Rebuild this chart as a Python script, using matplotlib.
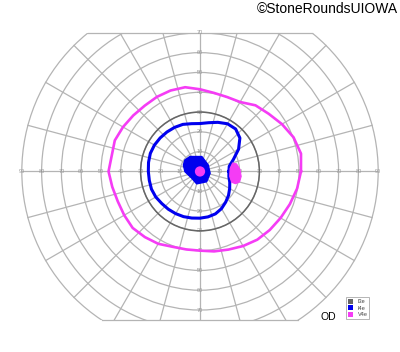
import numpy as np
import matplotlib
matplotlib.use('Agg')
from matplotlib import pyplot as plt
from matplotlib.patches import Circle, Rectangle, Polygon, Patch

plt.rcParams['font.family'] = ['Liberation Sans', 'DejaVu Sans']

# isopters, meridian angle (deg, counter-clockwise from right) and eccentricity (deg)
v4e_angles = [0, 10, 20, 30, 40, 50, 60, 70, 80, 90, 100, 110, 120, 130, 140, 150, 160, 170,
              180, 190, 200, 210, 220, 230, 240, 250, 260, 270, 280, 290, 300, 310, 320, 330, 340, 350]
v4e_ecc = [51.0, 51.8, 50.3, 47.8, 45.3, 43.6, 40.5, 40.0, 40.3, 41.5, 43.2, 43.5, 43.5, 43.4, 44.0, 44.9, 45.8, 45.3,
           46.2, 45.0, 44.2, 44.2, 44.4, 43.3, 42.2, 40.5, 40.0, 40.0, 41.0, 42.0, 43.5, 45.0, 46.0, 47.0, 48.3, 49.8]

i4e_angles = v4e_angles
i4e_ecc = [14.6, 15.0, 18.0, 22.5, 26.3, 28.0, 27.8, 26.4, 25.0, 24.2, 24.5, 25.3, 25.7, 26.0, 26.3, 26.6, 26.7, 26.4,
           26.1, 26.0, 26.1, 25.8, 25.2, 24.9, 24.6, 24.3, 23.9, 23.6, 23.3, 22.8, 21.7, 20.2, 18.8, 17.3, 16.0, 14.8]

i3e_radius = 30

# central filled area (I4e) and central V4e spot
blob_angles = [38, 83, 124, 143, 159, 181, 219, 255, 303, 350]
blob_ecc = [5.3, 7.6, 9.1, 9.6, 9.0, 7.6, 5.4, 6.5, 6.2, 5.2]
center_spot = 2.6

# blind spot (V4e), x/y in degrees
blind_x = [16.5, 18.5, 20.2, 20.8, 20.0, 18.0, 16.0, 15.0, 15.2]
blind_y = [4.3, 3.8, 1.0, -2.5, -5.3, -6.2, -5.5, -2.5, 1.5]

rings = [10, 20, 30, 40, 50, 60, 70, 80, 90]
spokes = np.arange(0, 360, 15)
top_clip = 70
bottom_clip = -75

c_grid = '#b4b4b4'
c_i3e = '#666666'
c_i4e = '#0000ee'
c_v4e = '#f53cf5'


def to_xy(ang, ecc):
    a = np.radians(ang)
    e = np.array(ecc)
    return e * np.cos(a), e * np.sin(a)


fig = plt.figure(figsize=(4, 3.52), dpi=100)
ax = fig.add_axes([0, 0, 1, 1])
ax.set_xlim(-101, 101)
ax.set_ylim(-91.2, 86.6)
ax.set_aspect('equal')
ax.axis('off')

clip = Rectangle((-100, bottom_clip), 200, top_clip - bottom_clip, transform=ax.transData)

# grid
for r in rings:
    c = Circle((0, 0), r, fill=False, edgecolor=c_grid, lw=0.9, zorder=1)
    ax.add_patch(c)
    c.set_clip_path(clip)
for s in spokes:
    ln, = ax.plot([2 * np.cos(np.radians(s)), 90 * np.cos(np.radians(s))],
                  [2 * np.sin(np.radians(s)), 90 * np.sin(np.radians(s))],
                  color=c_grid, lw=0.9, zorder=1)
    ln.set_clip_path(clip)
for yc in [top_clip, bottom_clip]:
    xc = np.sqrt(90 ** 2 - yc ** 2)
    ax.plot([-xc, xc], [yc, yc], color=c_grid, lw=0.9, zorder=1)

# scale labels
for r in rings:
    ax.text(r, 0, str(r), fontsize=4, color='#999999', ha='center', va='center', zorder=2)
    ax.text(-r, 0, str(r), fontsize=4, color='#999999', ha='center', va='center', zorder=2)
for r in rings[:7]:
    ax.text(0, r, str(r), fontsize=4, color='#999999', ha='center', va='center', zorder=2)
    ax.text(0, -r, str(r), fontsize=4, color='#999999', ha='center', va='center', zorder=2)

# I3e
ax.add_patch(Circle((0, 0), i3e_radius, fill=False, edgecolor=c_i3e, lw=1.1, zorder=3))

# I4e
x, y = to_xy(i4e_angles + [i4e_angles[0]], i4e_ecc + [i4e_ecc[0]])
ax.plot(x, y, color=c_i4e, lw=2.2, solid_joinstyle='round', zorder=4)
bx, by = to_xy(blob_angles, blob_ecc)
ax.add_patch(Polygon(np.column_stack([bx, by]), closed=True, facecolor=c_i4e,
                     edgecolor=c_i4e, lw=1.0, joinstyle='round', zorder=4))

# V4e
x, y = to_xy(v4e_angles + [v4e_angles[0]], v4e_ecc + [v4e_ecc[0]])
ax.plot(x, y, color=c_v4e, lw=1.9, solid_joinstyle='round', zorder=5)
ax.add_patch(Circle((0, 0), center_spot, facecolor=c_v4e, edgecolor='none', zorder=5))
ax.add_patch(Polygon(np.column_stack([blind_x, blind_y]), closed=True, facecolor=c_v4e,
                     edgecolor=c_v4e, lw=0.8, joinstyle='round', zorder=5))

# legend
handles = [Patch(facecolor=c_i3e, edgecolor='none', label='I3e'),
           Patch(facecolor=c_i4e, edgecolor='none', label='I4e'),
           Patch(facecolor=c_v4e, edgecolor='none', label='V4e')]
leg = fig.legend(handles=handles, loc='lower left', bbox_to_anchor=(0.858, 0.086),
                 fontsize=4, handlelength=1.0, handleheight=1.0, handletextpad=0.8,
                 labelspacing=0.2, borderpad=0.3, fancybox=False, framealpha=1)
leg.get_frame().set_edgecolor('#aaaaaa')
leg.get_frame().set_linewidth(0.6)
for t in leg.get_texts():
    t.set_color('#444444')

fig.text(0.822, 0.1, 'OD', fontsize=7.5, ha='center', va='center')
fig.text(0.995, 0.975, '©StoneRoundsUIOWA', fontsize=10, ha='right', va='center')

plt.savefig('out.png', dpi=100)
